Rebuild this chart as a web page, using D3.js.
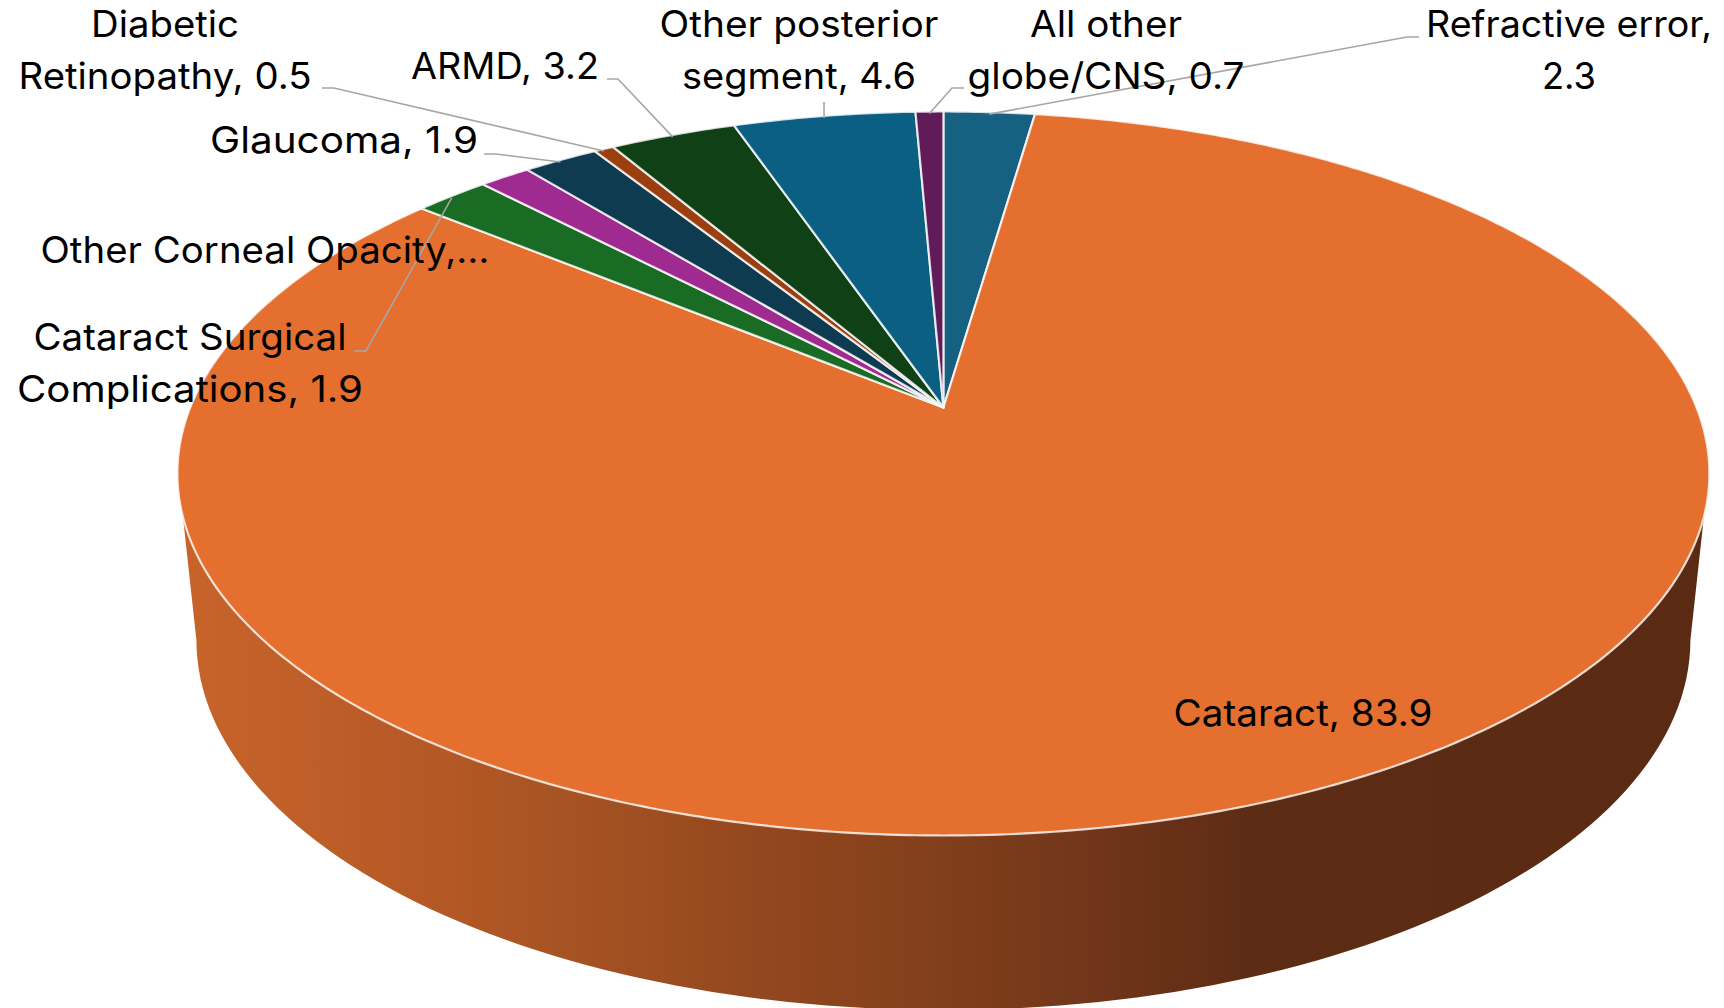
<!DOCTYPE html>
<html>
<head>
<meta charset="utf-8">
<script src="https://cdn.jsdelivr.net/npm/d3@7"></script>
<style>
  html, body { margin: 0; padding: 0; background: #fff; overflow: hidden; }
  text { font-family: Inter, "Noto Sans", sans-serif; font-size: 36.5px; fill: #000; }
</style>
</head>
<body>
<svg id="chart" width="1724" height="1008"></svg>
<script>
// Causes of blindness, percent share, clockwise from twelve o'clock
const categories = ["Refractive error", "Cataract", "Cataract Surgical Complications",
  "Other Corneal Opacity", "Glaucoma", "Diabetic Retinopathy", "ARMD",
  "Other posterior segment", "All other globe/CNS"];
const values = [2.3, 83.9, 1.9, 1.3, 1.9, 0.5, 3.2, 4.6, 0.7];
const sliceColors = ["#166082", "#e56f2f", "#1a6b24", "#a02b90", "#0f3b50",
  "#9c3f10", "#104016", "#0a5f83", "#601b58"];

// Top face: a disc seen in perspective, so its hub sits above the ellipse centre
const disc = { cx: 943.4, cy: 473.5, rx: 766, ry: 362, hubRise: 66 };
const tilt = disc.hubRise / disc.ry;
const faceWidth = disc.rx * Math.sqrt(1 - tilt * tilt);

function rimPoint(angle, radius = 1) {
  const u = radius * Math.sin(angle), v = -radius * Math.cos(angle);
  const w = 1 - tilt * v;
  return [disc.cx + faceWidth * u / w, disc.cy + (disc.ry * v - disc.hubRise) / w];
}

// Side wall: lower outline and the rim height where it leaves the top face
const base = { cx: 943.4, cy: 640, rx: 747, ry: 370 };
const wallTopY = 517;
const wallStops = [
  [177, "#c8642a"], [400, "#b85a27"], [600, "#a35122"], [800, "#8f451d"],
  [943, "#813f1b"], [1100, "#70351a"], [1250, "#5d2c14"], [1709, "#5a2a13"]
];

// Where each label sits: text centre, first baseline, words on line one, fitted line widths, leader elbow
const labelSpots = {
  "Refractive error": { x: 1569, y: 37, split: 2, widths: [286, 54], leader: [[1419, 37], [1407, 37]] },
  "Cataract": { x: 1303, y: 726, split: 2, widths: [259] },
  "Cataract Surgical Complications": { x: 190, y: 350, split: 2, widths: [313, 346], leader: [[354, 351], [366, 351]] },
  "Other Corneal Opacity": { x: 265, y: 263, clipped: true, widths: [449] },
  "Glaucoma": { x: 344, y: 153, split: 2, widths: [268], leader: [[484, 154], [496, 154]] },
  "Diabetic Retinopathy": { x: 165, y: 37, split: 1, widths: [148, 293], leader: [[322, 88], [334, 88]] },
  "ARMD": { x: 505, y: 79, split: 2, widths: [188], leader: [[607, 79], [618, 79]] },
  "Other posterior segment": { x: 799, y: 37, split: 2, widths: [279, 234], leader: [[824, 102]] },
  "All other globe/CNS": { x: 1106, y: 37, split: 2, widths: [152, 277], leader: [[964, 88], [952, 88]] }
};
const lineStep = 51.5;

const svg = d3.select("#chart");

const grad = svg.append("defs").append("linearGradient")
  .attr("id", "wall").attr("gradientUnits", "userSpaceOnUse")
  .attr("x1", wallStops[0][0]).attr("x2", wallStops[wallStops.length - 1][0])
  .attr("y1", 0).attr("y2", 0);
grad.selectAll("stop").data(wallStops).join("stop")
  .attr("offset", d => (d[0] - wallStops[0][0]) / (wallStops[wallStops.length - 1][0] - wallStops[0][0]))
  .attr("stop-color", d => d[1]);

// Wall outline: down the right side, round the lower half of the base, back up the left
const wallSide = (disc.rx * Math.sqrt(1 - Math.pow((wallTopY - disc.cy) / disc.ry, 2)));
const baseAngles = d3.range(0, 180.5, 1.5).map(d => d * Math.PI / 180);
const wallOutline = [
  [disc.cx + wallSide, wallTopY],
  ...baseAngles.map(t => [base.cx + base.rx * Math.cos(t), base.cy + base.ry * Math.sin(t)]),
  [disc.cx - wallSide, wallTopY]
];
svg.append("path").attr("d", d3.line()(wallOutline) + "Z").attr("fill", "url(#wall)");

// Slices of the top face
const pie = d3.pie().sort(null).value(d => d)(values);
const sliceOutline = d => {
  const span = d.endAngle - d.startAngle;
  const steps = Math.max(2, Math.ceil(span / 0.01));
  const rim = d3.range(steps + 1).map(i => rimPoint(d.startAngle + span * i / steps));
  return d3.line()([rimPoint(0, 0), ...rim]) + "Z";
};
svg.append("g").selectAll("path").data(pie).join("path")
  .attr("d", sliceOutline)
  .attr("fill", (d, i) => sliceColors[i])
  .attr("stroke", "#fff").attr("stroke-opacity", 0.8)
  .attr("stroke-width", 2.2).attr("stroke-linejoin", "round");

// Leader lines run from each label's elbow to the middle of its slice's rim
const leaders = svg.append("g").attr("fill", "none").attr("stroke", "#a6a6a6").attr("stroke-width", 1.6);
pie.forEach((d, i) => {
  const spot = labelSpots[categories[i]];
  if (!spot.leader) return;
  const end = rimPoint((d.startAngle + d.endAngle) / 2);
  const endPoint = [end[0], end[1] + 2];
  leaders.append("path").attr("d", d3.line()([...spot.leader, endPoint]));
});

// Data labels, each line fitted to its measured width
const labels = svg.append("g").attr("text-anchor", "middle");
categories.forEach((name, i) => {
  const spot = labelSpots[name];
  const full = `${name}, ${values[i]}`;
  const words = full.split(" ");
  const lines = spot.clipped
    ? [`${name},…`]
    : [words.slice(0, spot.split).join(" "), words.slice(spot.split).join(" ")].filter(Boolean);
  lines.forEach((line, k) => {
    labels.append("text")
      .attr("x", spot.x)
      .attr("y", spot.y + k * lineStep)
      .attr("textLength", spot.widths[k])
      .attr("lengthAdjust", "spacingAndGlyphs")
      .text(line);
  });
});
</script>
</body>
</html>
